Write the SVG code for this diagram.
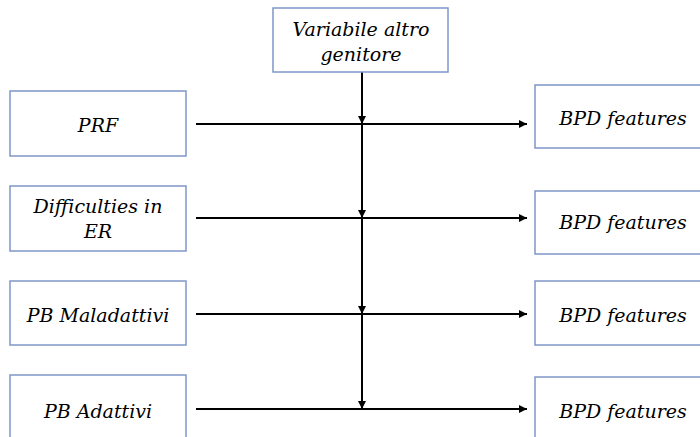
<svg xmlns="http://www.w3.org/2000/svg" width="700" height="437" viewBox="0 0 700 437">
<style>
.box{fill:#fff;stroke:#7f97c9;stroke-width:1.5}
.t{font-family:'DejaVu Serif',serif;font-style:italic;font-size:19px;fill:#000;text-anchor:middle}
.ln{stroke:#000;stroke-width:2;fill:none}
</style>
<defs>
<marker id="ar" viewBox="0 0 10 10" refX="10" refY="5" markerWidth="10" markerHeight="8" markerUnits="userSpaceOnUse" orient="auto">
<path d="M0,0 L10,5 L0,10 z" fill="#000"/>
</marker>
</defs>
<rect width="700" height="437" fill="#fff"/>
<g id="connectors">
<line class="ln" x1="196" y1="124" x2="527" y2="124" marker-end="url(#ar)"/>
<line class="ln" x1="196" y1="218" x2="527" y2="218" marker-end="url(#ar)"/>
<line class="ln" x1="196" y1="314" x2="527" y2="314" marker-end="url(#ar)"/>
<line class="ln" x1="196" y1="409" x2="527" y2="409" marker-end="url(#ar)"/>
<line class="ln" x1="362" y1="72" x2="362" y2="124" marker-end="url(#ar)"/>
<line class="ln" x1="362" y1="124" x2="362" y2="218" marker-end="url(#ar)"/>
<line class="ln" x1="362" y1="218" x2="362" y2="314" marker-end="url(#ar)"/>
<line class="ln" x1="362" y1="314" x2="362" y2="409" marker-end="url(#ar)"/>
</g>
<g id="node-top">
<rect class="box" x="273" y="8" width="175" height="64"/>
<text class="t" x="361" y="36">Variabile altro</text>
<text class="t" x="361" y="61">genitore</text>
</g>
<g id="node-prf">
<rect class="box" x="10" y="91" width="176" height="65"/>
<text class="t" x="98" y="132">PRF</text>
</g>
<g id="node-er">
<rect class="box" x="10" y="186" width="176" height="65"/>
<text class="t" x="98" y="213">Difficulties in</text>
<text class="t" x="98" y="238">ER</text>
</g>
<g id="node-pbm">
<rect class="box" x="10" y="281" width="176" height="64"/>
<text class="t" x="98" y="322">PB Maladattivi</text>
</g>
<g id="node-pba">
<rect class="box" x="10" y="375" width="176" height="70"/>
<text class="t" x="98" y="418">PB Adattivi</text>
</g>
<g id="node-bpd1">
<rect class="box" x="535" y="85" width="180" height="63"/>
<text class="t" x="623" y="125">BPD features</text>
</g>
<g id="node-bpd2">
<rect class="box" x="535" y="191" width="180" height="63"/>
<text class="t" x="623" y="229">BPD features</text>
</g>
<g id="node-bpd3">
<rect class="box" x="535" y="281" width="180" height="64"/>
<text class="t" x="623" y="322">BPD features</text>
</g>
<g id="node-bpd4">
<rect class="box" x="535" y="377" width="180" height="70"/>
<text class="t" x="623" y="418">BPD features</text>
</g>
</svg>
